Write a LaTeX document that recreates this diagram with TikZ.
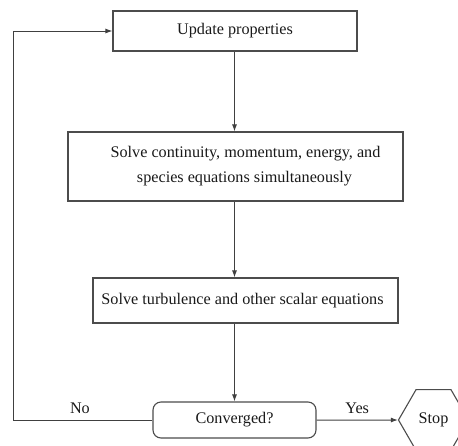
\documentclass[tikz,border=0pt]{standalone}
\usepackage{fontspec}
\setmainfont{Liberation Serif}
\usetikzlibrary{shapes.geometric,shapes.misc,arrows.meta}
\begin{document}
\begin{tikzpicture}[x=1pt,y=-1pt,
  every node/.style={font=\fontsize{16.2}{25}\selectfont, text=black!90},
  procbox/.style={draw=black!70, line width=1.1pt, inner sep=0pt, align=center},
  decbox/.style={draw=black!70, line width=1.1pt, rounded corners=8pt, inner sep=0pt},
  stopbox/.style={draw=black!70, line width=1.1pt, regular polygon, regular polygon sides=6, inner sep=0pt, minimum size=70pt},
  flow/.style={draw=black!75, line width=1pt, -{Latex[length=7pt,width=5pt]}},
  lbl/.style={inner sep=0pt}
]
\useasboundingbox (0,0) rectangle (458,445);
\clip (0,0) rectangle (458,445);
\node[procbox, minimum width=244pt, minimum height=40pt] (upd) at (235,31) {Update properties};
\node[procbox, minimum width=335pt, minimum height=69pt] (solve) at (235.5,166.5)
  {\hspace*{20pt}Solve continuity, momentum, energy, and\\\hspace*{18pt}species equations simultaneously};
\node[procbox, minimum width=305pt, minimum height=45pt] (turb) at (245.5,300.5)
  {Solve turbulence and other scalar equations\hspace*{6pt}};
\node[decbox, minimum width=163pt, minimum height=36pt] (conv) at (234.5,420) {Converged?};
\node[stopbox] (stop) at (433.5,420) {Stop};
\coordinate (back) at (13,420);
\draw[flow] (upd.south -| conv.north) -- (solve.north -| conv.north);
\draw[flow] (solve.south -| conv.north) -- (turb.north -| conv.north);
\draw[flow] (turb.south -| conv.north) -- (conv.north);
\draw[flow] (conv.east) -- node[lbl, above=6pt] {Yes} (stop.west);
\draw[flow] (conv.west) -- node[lbl, above=6pt, pos=0.52] {No} (back) |- (upd.west);
\end{tikzpicture}
\end{document}
